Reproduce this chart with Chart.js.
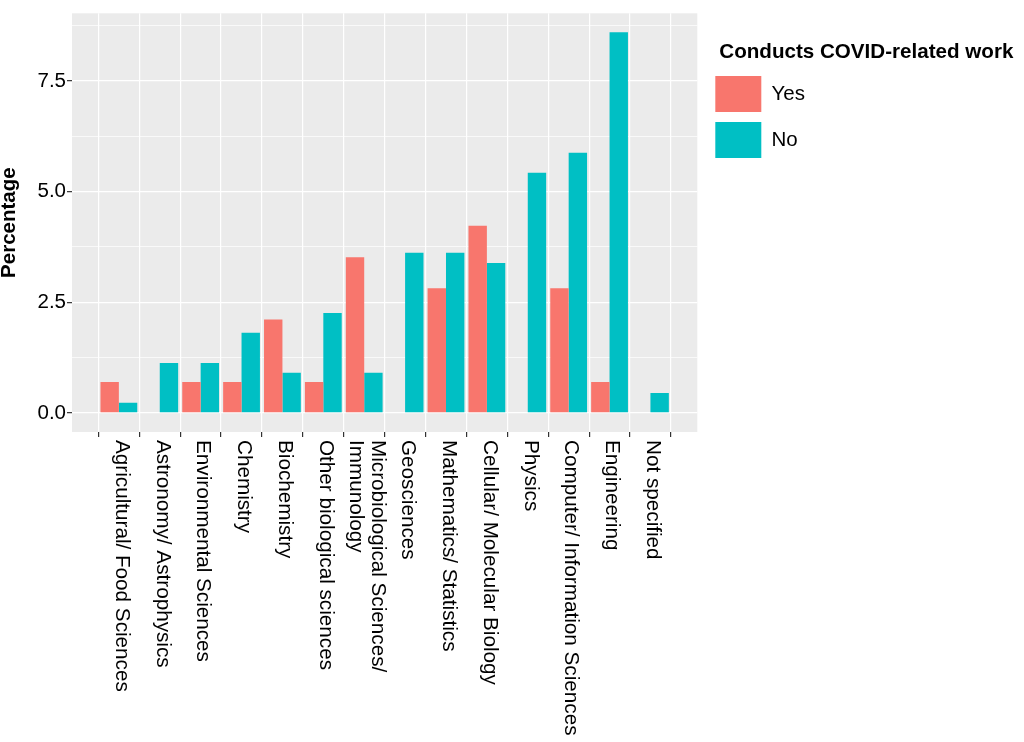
<!DOCTYPE html>
<html>
<head>
<meta charset="utf-8">
<script src="https://cdn.jsdelivr.net/npm/chart.js@4/dist/chart.umd.min.js"></script>
<style>
  html, body { margin: 0; padding: 0; background: #fff; }
  #wrap { width: 1024px; height: 742px; }
</style>
</head>
<body>
<div id="wrap"><canvas id="fieldChart"></canvas></div>
<script>
// --- data ---
const categories = [
    'Agricultural/ Food Sciences',
    'Astronomy/ Astrophysics',
    'Environmental Sciences',
    'Chemistry',
    'Biochemistry',
    'Other biological sciences',
    ['Microbiological Sciences/', 'Immunology'],
    'Geosciences',
    'Mathematics/ Statistics',
    'Cellular/ Molecular Biology',
    'Physics',
    'Computer/ Information Sciences',
    'Engineering',
    'Not specified'
];
const yesValues = [0.70, 0, 0.70, 0.70, 2.11, 0.70, 3.52, 0, 2.82, 4.23, 0, 2.82, 0.70, 0];
const noValues = [0.23, 1.13, 1.13, 1.81, 0.91, 2.26, 0.91, 3.62, 3.62, 3.39, 5.43, 5.88, 8.60, 0.45];
const majorTicks = [0, 2.5, 5, 7.5];
const minorTicks = [1.25, 3.75, 6.25, 8.75];
const legendTitle = 'Conducts COVID-related work';

const FONT = '"Liberation Sans", Arial, sans-serif';

// --- plugins ---
// grey ggplot panel behind the grid
const panelBg = {
    id: 'panelBg',
    beforeDraw(chart) {
        const {ctx, chartArea: a} = chart;
        ctx.save();
        ctx.fillStyle = '#EBEBEB';
        ctx.fillRect(a.left, a.top, a.right - a.left, a.bottom - a.top);
        ctx.restore();
    }
};

// category names, turned to read top-down, placed at the x scale's ticks
const xLabels = {
    id: 'xLabels',
    afterDraw(chart) {
        const {ctx, chartArea, scales: {x}} = chart;
        const lh = 21.7;
        ctx.save();
        ctx.font = '20.7px ' + FONT;
        ctx.fillStyle = '#000';
        ctx.textAlign = 'left';
        ctx.textBaseline = 'middle';
        categories.forEach((label, i) => {
            const lines = Array.isArray(label) ? label : [label];
            ctx.save();
            ctx.translate(x.getPixelForValue(i), chartArea.bottom + 8);
            ctx.rotate(Math.PI / 2);
            lines.forEach((line, j) => ctx.fillText(line, 0, (j - (lines.length - 1) / 2) * lh - 2.5));
            ctx.restore();
        });
        ctx.restore();
    }
};

// legend title (the legend keeps the room for it, the text is written here)
const legendTitleText = {
    id: 'legendTitleText',
    afterDraw(chart) {
        const lg = chart.legend;
        const {ctx} = chart;
        ctx.save();
        ctx.font = 'bold 20.6px ' + FONT;
        ctx.fillStyle = '#000';
        ctx.textAlign = 'left';
        ctx.textBaseline = 'middle';
        ctx.fillText(legendTitle, lg.left + 14, lg.top + 29 + 10);
        ctx.restore();
    }
};

// --- chart ---
const ctx = document.getElementById('fieldChart').getContext('2d');
const fieldChart = new Chart(ctx, {
    type: 'bar',
    data: {
        datasets: [
            { label: 'Yes', data: yesValues.map((v, i) => ({x: i, y: v})), backgroundColor: '#F8766D', borderWidth: 0 },
            { label: 'No', data: noValues.map((v, i) => ({x: i, y: v})), backgroundColor: '#00BFC4', borderWidth: 0 }
        ]
    },
    options: {
        responsive: true,
        maintainAspectRatio: false,
        animation: false,
        categoryPercentage: 0.9,
        barPercentage: 1.0,
        layout: { padding: { top: 13, left: 0, right: 209, bottom: 0 } },
        scales: {
            x: {
                type: 'linear',
                min: -0.6,
                max: categories.length - 1 + 0.6,
                afterBuildTicks: s => { s.ticks = categories.map((c, i) => ({value: i})); },
                afterFit: s => { s.height = 310; },
                ticks: { display: false },
                border: { display: false },
                grid: {
                    color: '#FFFFFF',
                    lineWidth: 1.2,
                    drawTicks: true,
                    tickLength: 5,
                    tickColor: '#333333',
                    tickWidth: 1.2
                }
            },
            y: {
                min: -0.43,
                max: 9.03,
                afterBuildTicks: s => {
                    s.ticks = majorTicks.concat(minorTicks).sort((a, b) => a - b).map(v => ({value: v}));
                },
                afterFit: s => { s.width = 72; },
                border: { display: false },
                grid: {
                    color: '#FFFFFF',
                    lineWidth: c => majorTicks.includes(c.tick.value) ? 1.3 : 0.7,
                    tickLength: 5,
                    tickColor: c => majorTicks.includes(c.tick.value) ? '#333333' : 'rgba(0,0,0,0)',
                    tickWidth: 1.2
                },
                ticks: {
                    padding: 1,
                    color: '#000',
                    font: { family: FONT, size: 20.5 },
                    callback: v => majorTicks.includes(v) ? v.toFixed(1) : ''
                },
                title: {
                    display: true,
                    text: 'Percentage',
                    color: '#000',
                    padding: 0,
                    font: { family: FONT, size: 20.5, weight: 'bold', lineHeight: 0.9 }
                }
            },
            gap: {
                position: 'right',
                display: true,
                grid: { display: false },
                border: { display: false },
                ticks: { display: false },
                afterFit: s => { s.width = 8; }
            }
        },
        plugins: {
            tooltip: { enabled: false },
            legend: {
                position: 'right',
                align: 'start',
                title: {
                    display: true,
                    text: '',
                    padding: { top: 29, bottom: 0 },
                    font: { family: FONT, size: 20, weight: 'bold' }
                },
                labels: {
                    boxWidth: 46,
                    boxHeight: 36,
                    padding: 10,
                    color: '#000',
                    font: { family: FONT, size: 20.5 }
                }
            }
        }
    },
    plugins: [panelBg, xLabels, legendTitleText]
});
</script>
</body>
</html>
